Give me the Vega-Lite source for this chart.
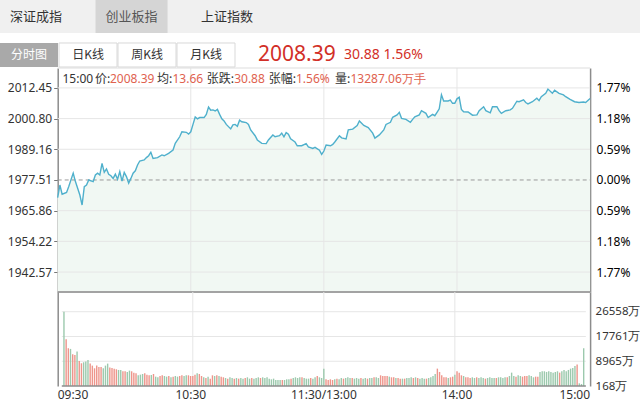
{
"$schema": "https://vega.github.io/schema/vega-lite/v6.json",
"padding": 0,
"background": "#ffffff",
"config": {"view": {"stroke": null}, "axis": {"labelFont": "Noto Sans"}, "text": {"font": "Noto Sans"}},
"datasets": {
"tabs1": [{"tab": "深证成指", "sel": "n"}, {"tab": "创业板指", "sel": "y"}, {"tab": "上证指数", "sel": "n"}],
"tabs2": [{"tab": "分时图", "sel": "y"}, {"tab": "日K线", "sel": "n"}, {"tab": "周K线", "sel": "n"}, {"tab": "月K线", "sel": "n"}],
"head": [{"k": "2008.39", "t": "b"}, {"k": "30.88   1.56%", "t": "s"}],
"xlab": [{"m": 0, "t": "09:30"}, {"m": 60, "t": "10:30"}, {"m": 120, "t": "11:30/13:00"}, {"m": 180, "t": "14:00"}, {"m": 240, "t": "15:00"}],
"pgrid": [{"p": 1942.57}, {"p": 1954.22}, {"p": 1965.86}, {"p": 1989.16}, {"p": 2000.80}, {"p": 2012.45}],
"vgrid": [{"m": 60}, {"m": 120}, {"m": 180}],
"vlines": [{"g": 8965}, {"g": 17761}, {"g": 26558}],
"price": [{"m":0,"p":1970.8},{"m":1,"p":1975.6},{"m":2,"p":1972.1},{"m":4,"p":1972.8},{"m":5,"p":1975.0},{"m":7,"p":1980.1},{"m":8,"p":1976.9},{"m":9,"p":1974.4},{"m":10,"p":1971.8},{"m":11,"p":1968.0},{"m":12,"p":1975.0},{"m":13,"p":1975.6},{"m":14,"p":1977.5},{"m":16,"p":1976.9},{"m":17,"p":1979.4},{"m":18,"p":1980.1},{"m":19,"p":1979.4},{"m":20,"p":1983.8},{"m":21,"p":1980.4},{"m":22,"p":1981.7},{"m":23,"p":1979.7},{"m":24,"p":1979.1},{"m":25,"p":1978.1},{"m":26,"p":1979.7},{"m":27,"p":1977.8},{"m":28,"p":1980.7},{"m":29,"p":1977.1},{"m":30,"p":1980.4},{"m":31,"p":1978.8},{"m":32,"p":1976.3},{"m":33,"p":1978.1},{"m":34,"p":1980.1},{"m":35,"p":1981.0},{"m":36,"p":1983.2},{"m":37,"p":1984.7},{"m":39,"p":1985.1},{"m":40,"p":1986.0},{"m":41,"p":1986.7},{"m":42,"p":1988.0},{"m":43,"p":1985.7},{"m":45,"p":1986.0},{"m":47,"p":1987.0},{"m":48,"p":1986.7},{"m":50,"p":1987.6},{"m":52,"p":1988.9},{"m":53,"p":1991.4},{"m":55,"p":1993.9},{"m":56,"p":1995.8},{"m":58,"p":1995.6},{"m":59,"p":1994.9},{"m":60,"p":1995.8},{"m":61,"p":1998.6},{"m":62,"p":2001.4},{"m":63,"p":2000.7},{"m":64,"p":2001.2},{"m":66,"p":2001.2},{"m":67,"p":2002.4},{"m":68,"p":2005.2},{"m":69,"p":2004.0},{"m":70,"p":2004.1},{"m":71,"p":2003.7},{"m":72,"p":2004.3},{"m":73,"p":2002.4},{"m":74,"p":2000.7},{"m":75,"p":1999.9},{"m":76,"p":1998.6},{"m":78,"p":1996.9},{"m":79,"p":1998.4},{"m":80,"p":1998.6},{"m":81,"p":1997.9},{"m":82,"p":2000.2},{"m":83,"p":1999.6},{"m":85,"p":1999.3},{"m":86,"p":1998.6},{"m":87,"p":1996.5},{"m":89,"p":1994.3},{"m":90,"p":1992.7},{"m":92,"p":1991.4},{"m":94,"p":1991.3},{"m":95,"p":1992.7},{"m":97,"p":1994.6},{"m":98,"p":1993.9},{"m":100,"p":1994.3},{"m":101,"p":1995.3},{"m":102,"p":1993.9},{"m":103,"p":1995.5},{"m":104,"p":1994.9},{"m":105,"p":1993.1},{"m":107,"p":1991.9},{"m":108,"p":1990.5},{"m":110,"p":1990.5},{"m":112,"p":1991.3},{"m":113,"p":1990.1},{"m":115,"p":1989.5},{"m":116,"p":1989.9},{"m":118,"p":1988.8},{"m":119,"p":1987.2},{"m":120,"p":1988.5},{"m":121,"p":1990.8},{"m":123,"p":1990.5},{"m":124,"p":1991.0},{"m":125,"p":1992.0},{"m":127,"p":1994.3},{"m":128,"p":1993.5},{"m":130,"p":1993.1},{"m":131,"p":1996.5},{"m":133,"p":1996.8},{"m":135,"p":1998.2},{"m":136,"p":1999.9},{"m":138,"p":1998.2},{"m":140,"p":1997.4},{"m":142,"p":1995.3},{"m":143,"p":1993.4},{"m":145,"p":1994.6},{"m":147,"p":1996.5},{"m":148,"p":1998.6},{"m":150,"p":1999.4},{"m":151,"p":2001.3},{"m":153,"p":2002.2},{"m":154,"p":2003.2},{"m":155,"p":2000.9},{"m":157,"p":2000.5},{"m":159,"p":1999.4},{"m":160,"p":2000.5},{"m":161,"p":2001.5},{"m":163,"p":2002.2},{"m":164,"p":2003.8},{"m":166,"p":2002.8},{"m":167,"p":2001.2},{"m":169,"p":2002.4},{"m":170,"p":2001.9},{"m":171,"p":2003.2},{"m":172,"p":2004.5},{"m":173,"p":2009.8},{"m":174,"p":2007.5},{"m":176,"p":2007.5},{"m":177,"p":2007.8},{"m":178,"p":2006.6},{"m":179,"p":2006.6},{"m":180,"p":2008.3},{"m":181,"p":2008.9},{"m":182,"p":2004.3},{"m":183,"p":2003.4},{"m":185,"p":2003.3},{"m":187,"p":2002.1},{"m":189,"p":2002.2},{"m":190,"p":2003.8},{"m":192,"p":2005.3},{"m":193,"p":2003.8},{"m":195,"p":2003.0},{"m":196,"p":2005.3},{"m":198,"p":2005.3},{"m":199,"p":2003.8},{"m":200,"p":2002.8},{"m":202,"p":2003.8},{"m":204,"p":2004.1},{"m":205,"p":2004.7},{"m":207,"p":2007.4},{"m":208,"p":2007.2},{"m":210,"p":2007.9},{"m":211,"p":2006.9},{"m":212,"p":2006.4},{"m":214,"p":2007.2},{"m":216,"p":2008.5},{"m":217,"p":2007.6},{"m":218,"p":2009.1},{"m":220,"p":2010.4},{"m":221,"p":2012.0},{"m":223,"p":2010.4},{"m":224,"p":2011.6},{"m":226,"p":2010.4},{"m":228,"p":2009.8},{"m":229,"p":2009.1},{"m":231,"p":2008.1},{"m":233,"p":2007.2},{"m":235,"p":2006.9},{"m":237,"p":2007.1},{"m":238,"p":2006.9},{"m":240,"p":2008.4}],
"vol": [{"m":1,"v":26558,"d":"d"},{"m":2,"v":16786,"d":"u"},{"m":3,"v":13581,"d":"u"},{"m":4,"v":13344,"d":"d"},{"m":5,"v":11444,"d":"u"},{"m":6,"v":11207,"d":"u"},{"m":7,"v":12394,"d":"d"},{"m":8,"v":9071,"d":"u"},{"m":9,"v":8240,"d":"u"},{"m":10,"v":8596,"d":"d"},{"m":11,"v":8833,"d":"d"},{"m":12,"v":9427,"d":"d"},{"m":13,"v":8121,"d":"u"},{"m":14,"v":7409,"d":"u"},{"m":15,"v":6459,"d":"u"},{"m":16,"v":7409,"d":"u"},{"m":17,"v":6934,"d":"u"},{"m":18,"v":6934,"d":"u"},{"m":19,"v":6459,"d":"d"},{"m":20,"v":7409,"d":"d"},{"m":21,"v":8121,"d":"d"},{"m":22,"v":6697,"d":"u"},{"m":23,"v":6578,"d":"u"},{"m":24,"v":6340,"d":"u"},{"m":25,"v":6103,"d":"u"},{"m":26,"v":5866,"d":"d"},{"m":27,"v":5866,"d":"d"},{"m":28,"v":5391,"d":"u"},{"m":29,"v":5391,"d":"u"},{"m":30,"v":5153,"d":"d"},{"m":31,"v":5628,"d":"d"},{"m":32,"v":5391,"d":"u"},{"m":33,"v":4916,"d":"u"},{"m":34,"v":4679,"d":"u"},{"m":35,"v":3966,"d":"d"},{"m":36,"v":4204,"d":"d"},{"m":37,"v":4441,"d":"d"},{"m":38,"v":4679,"d":"u"},{"m":39,"v":4204,"d":"u"},{"m":40,"v":3966,"d":"u"},{"m":41,"v":4085,"d":"d"},{"m":42,"v":4441,"d":"u"},{"m":43,"v":3492,"d":"d"},{"m":44,"v":3254,"d":"d"},{"m":45,"v":3729,"d":"u"},{"m":46,"v":3966,"d":"u"},{"m":47,"v":3729,"d":"d"},{"m":48,"v":3492,"d":"d"},{"m":49,"v":3729,"d":"u"},{"m":50,"v":3254,"d":"d"},{"m":51,"v":3492,"d":"u"},{"m":52,"v":3729,"d":"d"},{"m":53,"v":3492,"d":"d"},{"m":54,"v":3729,"d":"u"},{"m":55,"v":3966,"d":"u"},{"m":56,"v":3729,"d":"d"},{"m":57,"v":3966,"d":"d"},{"m":58,"v":3966,"d":"u"},{"m":59,"v":3729,"d":"u"},{"m":60,"v":3729,"d":"u"},{"m":61,"v":4204,"d":"u"},{"m":62,"v":4679,"d":"d"},{"m":63,"v":4441,"d":"u"},{"m":64,"v":3729,"d":"u"},{"m":65,"v":3254,"d":"d"},{"m":66,"v":3017,"d":"u"},{"m":67,"v":3492,"d":"d"},{"m":68,"v":2779,"d":"u"},{"m":69,"v":3966,"d":"u"},{"m":70,"v":3729,"d":"d"},{"m":71,"v":3966,"d":"u"},{"m":72,"v":3729,"d":"d"},{"m":73,"v":3492,"d":"u"},{"m":74,"v":3254,"d":"u"},{"m":75,"v":3017,"d":"d"},{"m":76,"v":2779,"d":"u"},{"m":77,"v":3254,"d":"d"},{"m":78,"v":3017,"d":"d"},{"m":79,"v":2779,"d":"u"},{"m":80,"v":3017,"d":"d"},{"m":81,"v":2779,"d":"u"},{"m":82,"v":3017,"d":"d"},{"m":83,"v":2779,"d":"d"},{"m":84,"v":3017,"d":"u"},{"m":85,"v":3254,"d":"d"},{"m":86,"v":2779,"d":"d"},{"m":87,"v":3017,"d":"u"},{"m":88,"v":2779,"d":"d"},{"m":89,"v":3017,"d":"d"},{"m":90,"v":3254,"d":"d"},{"m":91,"v":3017,"d":"u"},{"m":92,"v":3254,"d":"d"},{"m":93,"v":3017,"d":"d"},{"m":94,"v":3254,"d":"d"},{"m":95,"v":2779,"d":"d"},{"m":96,"v":2542,"d":"d"},{"m":97,"v":2779,"d":"d"},{"m":98,"v":2305,"d":"d"},{"m":99,"v":2305,"d":"d"},{"m":100,"v":2305,"d":"d"},{"m":101,"v":2305,"d":"u"},{"m":102,"v":2305,"d":"d"},{"m":103,"v":2542,"d":"d"},{"m":104,"v":2542,"d":"d"},{"m":105,"v":2779,"d":"u"},{"m":106,"v":3017,"d":"d"},{"m":107,"v":3254,"d":"d"},{"m":108,"v":3017,"d":"d"},{"m":109,"v":3254,"d":"d"},{"m":110,"v":3254,"d":"u"},{"m":111,"v":3017,"d":"d"},{"m":112,"v":2779,"d":"d"},{"m":113,"v":2779,"d":"d"},{"m":114,"v":3017,"d":"u"},{"m":115,"v":2779,"d":"d"},{"m":116,"v":3254,"d":"d"},{"m":117,"v":3729,"d":"u"},{"m":118,"v":3254,"d":"d"},{"m":119,"v":3017,"d":"d"},{"m":120,"v":6340,"d":"d"},{"m":121,"v":2542,"d":"u"},{"m":122,"v":2305,"d":"u"},{"m":123,"v":2542,"d":"u"},{"m":124,"v":2305,"d":"u"},{"m":125,"v":2542,"d":"d"},{"m":126,"v":2779,"d":"u"},{"m":127,"v":2542,"d":"d"},{"m":128,"v":3017,"d":"d"},{"m":129,"v":2779,"d":"u"},{"m":130,"v":3017,"d":"d"},{"m":131,"v":3254,"d":"d"},{"m":132,"v":3017,"d":"d"},{"m":133,"v":3017,"d":"u"},{"m":134,"v":2779,"d":"d"},{"m":135,"v":3017,"d":"d"},{"m":136,"v":2779,"d":"d"},{"m":137,"v":3017,"d":"u"},{"m":138,"v":2779,"d":"d"},{"m":139,"v":3017,"d":"d"},{"m":140,"v":2779,"d":"u"},{"m":141,"v":3017,"d":"d"},{"m":142,"v":3017,"d":"d"},{"m":143,"v":3254,"d":"u"},{"m":144,"v":3254,"d":"d"},{"m":145,"v":3017,"d":"d"},{"m":146,"v":3966,"d":"u"},{"m":147,"v":3729,"d":"u"},{"m":148,"v":3729,"d":"u"},{"m":149,"v":3729,"d":"u"},{"m":150,"v":3492,"d":"d"},{"m":151,"v":3254,"d":"u"},{"m":152,"v":3254,"d":"u"},{"m":153,"v":3017,"d":"d"},{"m":154,"v":3017,"d":"u"},{"m":155,"v":2779,"d":"u"},{"m":156,"v":2779,"d":"d"},{"m":157,"v":2779,"d":"u"},{"m":158,"v":3017,"d":"d"},{"m":159,"v":3017,"d":"d"},{"m":160,"v":3254,"d":"d"},{"m":161,"v":3017,"d":"u"},{"m":162,"v":3254,"d":"d"},{"m":163,"v":3017,"d":"u"},{"m":164,"v":2779,"d":"d"},{"m":165,"v":3017,"d":"d"},{"m":166,"v":2779,"d":"d"},{"m":167,"v":2779,"d":"u"},{"m":168,"v":3017,"d":"d"},{"m":169,"v":3254,"d":"d"},{"m":170,"v":3729,"d":"d"},{"m":171,"v":4441,"d":"d"},{"m":172,"v":6340,"d":"u"},{"m":173,"v":5153,"d":"u"},{"m":174,"v":3966,"d":"u"},{"m":175,"v":3254,"d":"u"},{"m":176,"v":3254,"d":"u"},{"m":177,"v":3017,"d":"d"},{"m":178,"v":3254,"d":"u"},{"m":179,"v":3492,"d":"u"},{"m":180,"v":4204,"d":"d"},{"m":181,"v":5391,"d":"u"},{"m":182,"v":4916,"d":"u"},{"m":183,"v":3966,"d":"u"},{"m":184,"v":3729,"d":"d"},{"m":185,"v":3254,"d":"u"},{"m":186,"v":3254,"d":"u"},{"m":187,"v":3017,"d":"u"},{"m":188,"v":3254,"d":"d"},{"m":189,"v":3017,"d":"d"},{"m":190,"v":3254,"d":"u"},{"m":191,"v":3017,"d":"d"},{"m":192,"v":3254,"d":"d"},{"m":193,"v":3017,"d":"d"},{"m":194,"v":2779,"d":"u"},{"m":195,"v":3017,"d":"d"},{"m":196,"v":3254,"d":"d"},{"m":197,"v":3017,"d":"d"},{"m":198,"v":3017,"d":"d"},{"m":199,"v":3017,"d":"u"},{"m":200,"v":3254,"d":"d"},{"m":201,"v":3254,"d":"d"},{"m":202,"v":3017,"d":"d"},{"m":203,"v":3254,"d":"d"},{"m":204,"v":3254,"d":"u"},{"m":205,"v":3729,"d":"d"},{"m":206,"v":4916,"d":"d"},{"m":207,"v":3729,"d":"d"},{"m":208,"v":3492,"d":"u"},{"m":209,"v":3966,"d":"d"},{"m":210,"v":3729,"d":"d"},{"m":211,"v":3492,"d":"u"},{"m":212,"v":3729,"d":"u"},{"m":213,"v":3729,"d":"u"},{"m":214,"v":3966,"d":"d"},{"m":215,"v":3729,"d":"d"},{"m":216,"v":3254,"d":"d"},{"m":217,"v":3492,"d":"u"},{"m":218,"v":3492,"d":"u"},{"m":219,"v":5153,"d":"d"},{"m":220,"v":5391,"d":"d"},{"m":221,"v":5391,"d":"d"},{"m":222,"v":5153,"d":"d"},{"m":223,"v":5391,"d":"d"},{"m":224,"v":5153,"d":"d"},{"m":225,"v":4916,"d":"d"},{"m":226,"v":5153,"d":"d"},{"m":227,"v":5391,"d":"d"},{"m":228,"v":4916,"d":"u"},{"m":229,"v":5391,"d":"d"},{"m":230,"v":5866,"d":"d"},{"m":231,"v":5391,"d":"d"},{"m":232,"v":5866,"d":"d"},{"m":233,"v":6340,"d":"d"},{"m":234,"v":6578,"d":"d"},{"m":235,"v":7290,"d":"d"},{"m":236,"v":7765,"d":"u"},{"m":237,"v":1118,"d":"d"},{"m":238,"v":880,"d":"d"},{"m":239,"v":13581,"d":"d"}]
},
"spacing": 0,
"bounds": "flush",
"vconcat": [
{
 "width": 640, "height": 33,
 "view": {"fill": "#f0f0f0", "stroke": null},
 "data": {"name": "tabs1"},
 "encoding": {"x": {"field": "tab", "type": "nominal", "scale": {"type": "band", "domain": ["深证成指", "创业板指", "上证指数", "_a", "_b", "_c"], "paddingInner": 0.246, "paddingOuter": 0.473, "align": 0}, "axis": null}},
 "layer": [
  {"transform": [{"filter": "datum.sel == 'y'"}], "mark": {"type": "bar", "color": "#d5d5d5"}},
  {"mark": {"type": "text", "font": "Noto Sans CJK SC", "fontSize": 13, "baseline": "middle"},
   "encoding": {"text": {"field": "tab"}, "color": {"condition": {"test": "datum.sel == 'y'", "value": "#555555"}, "value": "#333333"}}}
 ]
},
{
 "width": 640, "height": 35,
 "encoding": {
  "x": {"field": "tab", "type": "nominal", "scale": {"type": "band", "domain": ["分时图", "日K线", "周K线", "月K线", "_a", "_b", "_c", "_d", "_e", "_f"], "paddingInner": 0.017, "paddingOuter": 0.432, "align": 0}, "axis": null},
  "y": {"datum": "r", "type": "nominal", "scale": {"type": "band", "domain": ["r"], "paddingInner": 0, "paddingOuter": 0.229, "align": 0.909}, "axis": null}
 },
 "layer": [
  {"data": {"name": "tabs2"},
   "layer": [
    {"mark": {"type": "bar", "stroke": "#d9d9d9"},
     "encoding": {
      "color": {"condition": {"test": "datum.sel == 'y'", "value": "#a9a9a9"}, "value": "#ffffff"},
      "strokeWidth": {"condition": {"test": "datum.sel == 'y'", "value": 0}, "value": 1}}},
    {"mark": {"type": "text", "font": "Noto Sans CJK SC", "fontSize": 12, "baseline": "middle"},
     "encoding": {
      "text": {"field": "tab"},
      "color": {"condition": {"test": "datum.sel == 'y'", "value": "#ffffff"}, "value": "#333333"}}}
   ]
  },
  {"data": {"name": "head"},
   "mark": {"type": "text", "font": "Noto Sans", "align": "left", "baseline": "middle", "color": "#d22f27"},
   "encoding": {
    "x": {"field": "k", "type": "nominal", "bandPosition": 0, "scale": {"type": "band", "domain": ["_a", "_b", "_c", "2008.39", "30.88   1.56%", "_d", "_e"], "paddingInner": 0, "paddingOuter": 0.221, "align": 0}, "axis": null},
    "text": {"field": "k"},
    "size": {"condition": {"test": "datum.t == 'b'", "value": 21}, "value": 14}}}
 ],
 "resolve": {"scale": {"x": "independent"}}
},
{
 "width": 640, "height": 224,
 "resolve": {"axis": {"x": "independent", "y": "independent"}},
 "layer": [
  {"data": {"name": "price"},
   "mark": {"type": "area", "color": "#f1f8f3", "opacity": 1},
   "encoding": {
    "x": {"field": "m", "type": "quantitative", "scale": {"domain": [-26, 262.5], "nice": false, "zero": false}, "axis": null},
    "y": {"field": "p", "type": "quantitative", "scale": {"domain": [1935, 2020], "nice": false, "zero": false},
          "axis": {"orient": "left", "offset": -57.7, "values": [1942.57, 1954.22, 1965.86, 1977.51, 1989.16, 2000.80, 2012.45], "format": ".2f", "title": null, "grid": false, "ticks": true, "tickSize": 4, "tickColor": "#777777", "labelPadding": 2, "labelColor": "#333333", "labelFontSize": 12, "labelFont": "Noto Sans", "domainColor": "#8c8c8c", "domainWidth": 1.5}},
    "y2": {"datum": 1935}
   }},
  {"data": {"name": "pgrid"},
   "mark": {"type": "rule", "color": "#e6e6e6", "strokeWidth": 1},
   "encoding": {"y": {"field": "p", "type": "quantitative", "axis": null}, "x": {"datum": 0, "axis": null}, "x2": {"datum": 240}}},
  {"data": {"name": "vgrid"},
   "mark": {"type": "rule", "color": "#e6e6e6", "strokeWidth": 1},
   "encoding": {"x": {"field": "m", "type": "quantitative", "axis": null}}},
  {"data": {"values": [{}]},
   "mark": {"type": "rule", "color": "#9a9a9a", "strokeDash": [4, 3], "strokeWidth": 1},
   "encoding": {"y": {"datum": 1977.51, "axis": null}, "x": {"datum": 0, "axis": null}, "x2": {"datum": 240}}},
  {"data": {"values": [{}]},
   "mark": {"type": "rule", "color": "#dddddd", "strokeWidth": 1},
   "encoding": {"y": {"datum": 2020, "axis": null}, "x": {"datum": 0, "axis": null}, "x2": {"datum": 240}}},
  {"data": {"values": [{}]},
   "mark": {"type": "rule", "color": "#a3a3a3", "strokeWidth": 2},
   "encoding": {"y": {"datum": 1935, "axis": null}, "x": {"datum": 0, "axis": null}, "x2": {"datum": 240}}},
  {"data": {"name": "price"},
   "mark": {"type": "line", "color": "#4fb0cc", "strokeWidth": 1.4},
   "encoding": {
    "x": {"field": "m", "type": "quantitative", "axis": null},
    "y": {"field": "p", "type": "quantitative",
          "axis": {"orient": "right", "offset": -49.9, "values": [1942.57, 1954.22, 1965.86, 1977.51, 1989.16, 2000.80, 2012.45], "labelExpr": "format(abs(datum.value - 1977.51) / 1977.51 * 100, '.2f') + '%'", "title": null, "grid": false, "ticks": false, "tickSize": 0, "labelPadding": 6, "labelFontSize": 12, "labelFont": "Noto Sans", "domainColor": "#8c8c8c", "domainWidth": 1.5,
                   "encode": {"labels": {"update": {"fill": {"signal": "datum.value > 1977.6 ? '#e0604f' : (datum.value < 1977.4 ? '#5a9d78' : '#9a9a9a')"}}}}}}
   }},
  {"data": {"values": [{}]}, "mark": {"type": "text", "text": "15:00", "align": "left", "baseline": "middle", "fontSize": 12, "font": "Noto Sans", "color": "#333333"},
   "encoding": {"x": {"datum": 2.16, "axis": null}, "y": {"datum": 2015.9, "axis": null}}},
  {"data": {"values": [{}]}, "mark": {"type": "text", "text": "价:", "align": "left", "baseline": "middle", "fontSize": 12, "font": "Noto Sans CJK SC", "color": "#333333"},
   "encoding": {"x": {"datum": 16.81, "axis": null}, "y": {"datum": 2015.9, "axis": null}}},
  {"data": {"values": [{}]}, "mark": {"type": "text", "text": "2008.39", "align": "left", "baseline": "middle", "fontSize": 12, "font": "Noto Sans", "color": "#e0624f"},
   "encoding": {"x": {"datum": 23.57, "axis": null}, "y": {"datum": 2015.9, "axis": null}}},
  {"data": {"values": [{}]}, "mark": {"type": "text", "text": "均:", "align": "left", "baseline": "middle", "fontSize": 12, "font": "Noto Sans CJK SC", "color": "#333333"},
   "encoding": {"x": {"datum": 44.76, "axis": null}, "y": {"datum": 2015.9, "axis": null}}},
  {"data": {"values": [{}]}, "mark": {"type": "text", "text": "13.66", "align": "left", "baseline": "middle", "fontSize": 12, "font": "Noto Sans", "color": "#e0624f"},
   "encoding": {"x": {"datum": 51.75, "axis": null}, "y": {"datum": 2015.9, "axis": null}}},
  {"data": {"values": [{}]}, "mark": {"type": "text", "text": "张跌:", "align": "left", "baseline": "middle", "fontSize": 12, "font": "Noto Sans CJK SC", "color": "#333333"},
   "encoding": {"x": {"datum": 67.17, "axis": null}, "y": {"datum": 2015.9, "axis": null}}},
  {"data": {"values": [{}]}, "mark": {"type": "text", "text": "30.88", "align": "left", "baseline": "middle", "fontSize": 12, "font": "Noto Sans", "color": "#e0624f"},
   "encoding": {"x": {"datum": 79.56, "axis": null}, "y": {"datum": 2015.9, "axis": null}}},
  {"data": {"values": [{}]}, "mark": {"type": "text", "text": "张幅:", "align": "left", "baseline": "middle", "fontSize": 12, "font": "Noto Sans CJK SC", "color": "#333333"},
   "encoding": {"x": {"datum": 95.17, "axis": null}, "y": {"datum": 2015.9, "axis": null}}},
  {"data": {"values": [{}]}, "mark": {"type": "text", "text": "1.56%", "align": "left", "baseline": "middle", "fontSize": 12, "font": "Noto Sans", "color": "#e0624f"},
   "encoding": {"x": {"datum": 107.43, "axis": null}, "y": {"datum": 2015.9, "axis": null}}},
  {"data": {"values": [{}]}, "mark": {"type": "text", "text": "量:", "align": "left", "baseline": "middle", "fontSize": 12, "font": "Noto Sans CJK SC", "color": "#333333"},
   "encoding": {"x": {"datum": 125.0, "axis": null}, "y": {"datum": 2015.9, "axis": null}}},
  {"data": {"values": [{}]}, "mark": {"type": "text", "text": "13287.06万手", "align": "left", "baseline": "middle", "fontSize": 12, "font": "Noto Sans", "color": "#e0624f"},
   "encoding": {"x": {"datum": 132.0, "axis": null}, "y": {"datum": 2015.9, "axis": null}}}
 ]
},
{
 "width": 640, "height": 94,
 "resolve": {"axis": {"x": "independent", "y": "independent"}},
 "layer": [
  {"data": {"name": "vlines"},
   "mark": {"type": "rule", "color": "#e6e6e6", "strokeWidth": 1},
   "encoding": {
    "y": {"field": "g", "type": "quantitative", "scale": {"domain": [168, 33560], "nice": false, "zero": false},
          "axis": {"orient": "left", "offset": -57.7, "labels": false, "ticks": false, "grid": false, "title": null, "domainColor": "#8c8c8c", "domainWidth": 1.5}},
    "x": {"datum": 0, "scale": {"domain": [-26, 262.5], "nice": false, "zero": false}, "axis": null},
    "x2": {"datum": 240}
   }},
  {"data": {"name": "vgrid"},
   "mark": {"type": "rule", "color": "#e6e6e6", "strokeWidth": 1},
   "encoding": {"x": {"field": "m", "type": "quantitative", "axis": null}}},
  {"data": {"name": "vol"},
   "mark": {"type": "bar", "width": 1.4},
   "encoding": {
    "x": {"field": "m", "type": "quantitative", "scale": {"domain": [-26, 262.5], "nice": false, "zero": false}, "axis": null},
    "y": {"field": "v", "type": "quantitative", "scale": {"domain": [168, 33560], "nice": false, "zero": false},
          "axis": {"orient": "right", "offset": -49.9, "values": [168, 8965, 17761, 26558], "labelExpr": "datum.value + '万'", "title": null, "grid": false, "ticks": false, "tickSize": 0, "labelPadding": 5, "labelFontSize": 11.5, "labelFont": "Noto Sans", "labelColor": "#333333", "domainColor": "#8c8c8c", "domainWidth": 1.5}},
    "y2": {"datum": 168},
    "color": {"field": "d", "type": "nominal", "scale": {"domain": ["u", "d"], "range": ["#ee958b", "#9cc9ad"]}, "legend": null}
   }},
  {"data": {"values": [{}]},
   "mark": {"type": "rule", "color": "#8c8c8c", "strokeWidth": 1.5},
   "encoding": {"y": {"datum": 168, "axis": null}, "x": {"datum": 0, "axis": null}, "x2": {"datum": 240}}}
 ]
},
{
 "width": 640, "height": 17,
 "data": {"name": "xlab"},
 "encoding": {
  "x": {"field": "m", "type": "quantitative", "scale": {"domain": [-26, 262.5], "nice": false, "zero": false}, "axis": null},
  "text": {"field": "t"}
 },
 "layer": [
  {"transform": [{"filter": "datum.m == 0"}], "mark": {"type": "text", "align": "left", "baseline": "middle", "fontSize": 12, "font": "Noto Sans", "color": "#333333"}},
  {"transform": [{"filter": "datum.m > 0 && datum.m < 240"}], "mark": {"type": "text", "align": "center", "baseline": "middle", "fontSize": 12, "font": "Noto Sans", "color": "#333333"}},
  {"transform": [{"filter": "datum.m == 240"}], "mark": {"type": "text", "align": "right", "baseline": "middle", "fontSize": 12, "font": "Noto Sans", "color": "#333333"}}
 ]
}
]
}
